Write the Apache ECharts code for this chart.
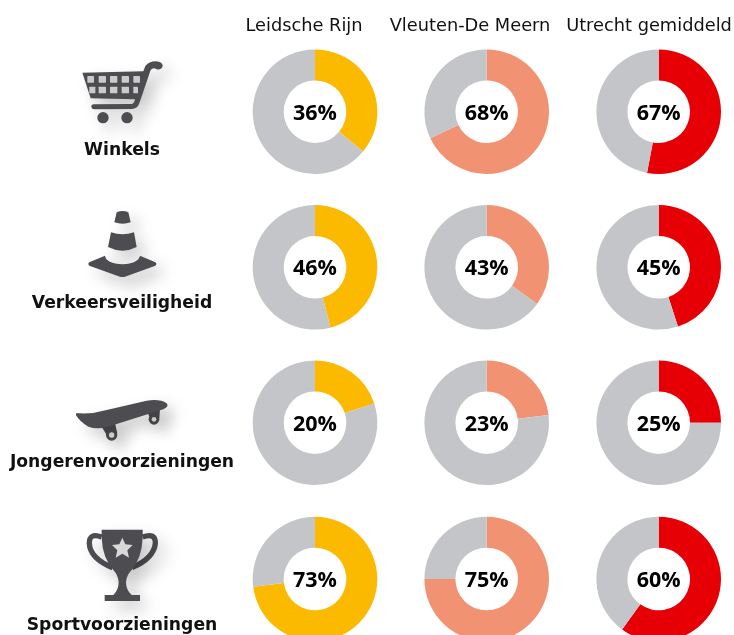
<!DOCTYPE html>
<html>
<head>
    <meta charset="utf-8">
    <title>Voorzieningen per gebied</title>
    <script src="https://cdn.jsdelivr.net/npm/echarts@6/dist/echarts.min.js"></script>
    <style>
        html, body { margin: 0; padding: 0; background: #fff; }
        #chart-container { width: 734px; height: 635px; }
    </style>
</head>
<body>
<div id="chart-container"></div>
<script>
    // data
    var areas = ['Leidsche Rijn', 'Vleuten-De Meern', 'Utrecht gemiddeld'];
    var topics = ['Winkels', 'Verkeersveiligheid', 'Jongerenvoorzieningen', 'Sportvoorzieningen'];
    // the printed figure and the drawn slice differ in two places in the original
    var leidscheLabels = [36, 46, 20, 73];
    var vleutenLabels = [68, 43, 23, 75];
    var utrechtLabels = [67, 45, 25, 60];
    var leidscheSlices = [36, 46, 20, 73];
    var vleutenSlices = [68, 35, 23, 75];
    var utrechtSlices = [53, 45, 25, 60];

    var labels = [leidscheLabels, vleutenLabels, utrechtLabels];
    var slices = [leidscheSlices, vleutenSlices, utrechtSlices];
    var colors = ['#fbb900', '#f19372', '#e60005'];
    var rest = '#c4c5c9';
    var dark = '#4d4c50';

    var colX = [315, 486.7, 658.7];
    var rowY = [111.7, 267.3, 422.7, 579];
    var headX = [304, 470, 649];
    var topicY = [151, 304, 463, 626];
    var font = '"DejaVu Sans", sans-serif';

    var series = [];
    areas.forEach(function (area, c) {
        topics.forEach(function (topic, r) {
            series.push({
                name: area + ' - ' + topic,
                type: 'pie',
                center: [colX[c], rowY[r]],
                radius: [31.3, 62.3],
                startAngle: 90,
                silent: true,
                animation: false,
                labelLine: { show: false },
                label: { show: false },
                labelLayout: { dy: 2 },
                data: [
                    {
                        value: slices[c][r],
                        itemStyle: { color: colors[c] },
                        label: {
                            show: true,
                            position: 'center',
                            formatter: labels[c][r] + '%',
                            fontFamily: '"Open Sans", sans-serif',
                            fontWeight: 'bold',
                            fontSize: 21.5,
                            color: '#000'
                        }
                    },
                    { value: 100 - slices[c][r], itemStyle: { color: rest } }
                ]
            });
        });
    });

    var graphics = [];
    areas.forEach(function (area, c) {
        graphics.push({
            type: 'text', x: headX[c], y: 26,
            style: { text: area, fontFamily: font, fontSize: 17.8, fill: '#111', align: 'center', verticalAlign: 'middle' }
        });
    });
    topics.forEach(function (topic, r) {
        graphics.push({
            type: 'text', x: 122, y: topicY[r],
            style: { text: topic, fontFamily: font, fontWeight: 'bold', fontSize: 17.2, fill: '#111', align: 'center', verticalAlign: 'middle' }
        });
    });

    // icons, drawn at 3x and scaled down
    var shadow = { fill: dark, shadowBlur: 16, shadowColor: 'rgba(0,0,0,0.22)', shadowOffsetX: 8, shadowOffsetY: 8 };
    var pathCount = 0;
    function pathShape(d) {
        var name = 'iconPath' + (pathCount++);
        echarts.graphic.registerShape(name, echarts.graphic.extendPath(d, {}));
        return name;
    }
    function part(d) {
        return { type: pathShape(d), style: shadow };
    }
    function line(d, w) {
        return { type: pathShape(d), style: { fill: null, stroke: dark, lineWidth: w, shadowBlur: 16, shadowColor: 'rgba(0,0,0,0.2)', shadowOffsetX: 8, shadowOffsetY: 8 } };
    }
    function dot(x, y, r, col) {
        return { type: 'circle', shape: { cx: x, cy: y, r: r }, style: col ? { fill: col } : shadow };
    }
    function cell(x, y, w, h) {
        return { type: 'rect', shape: { x: x, y: y, width: w, height: h, r: 2 }, style: { fill: '#cbcbcb' } };
    }
    function icon(ox, oy, children) {
        return { type: 'group', x: ox, y: oy, scaleX: 1 / 3, scaleY: 1 / 3, children: children };
    }

    graphics.push(icon(0, 40, [
        part('M247 98 L430 94 L436 78 Q446 64 468 64 Q488 66 488 77 Q486 90 470 88 Q460 80 452 90 L418 190 Q412 207 395 207 L282 208 Q274 206 274 200 Q274 193 282 193 L395 192 Q403 190 405 178 L272 175 Z'),
        dot(309, 233, 17), dot(381, 233, 17),
        cell(262, 108, 20, 20), cell(296, 108, 22, 20), cell(330, 108, 22, 20), cell(365, 108, 22, 20), cell(400, 108, 20, 20),
        cell(268, 140, 18, 20), cell(296, 140, 22, 20), cell(330, 140, 22, 20), cell(365, 140, 22, 20), cell(400, 140, 14, 20)
    ]));
    graphics.push(icon(0, 195, [
        part('M343 82 L350 52 Q368 44 385 52 L392 82 Q368 90 343 82 Z'),
        part('M333 112 Q368 124 402 112 L410 156 Q368 178 324 156 Z'),
        part('M315 182 Q318 205 368 208 Q415 205 420 182 L466 202 Q472 207 466 212 L375 245 Q368 247 360 245 L268 212 Q262 207 268 202 Z')
    ]));
    graphics.push(icon(0, 390, [
        part('M440 60 L480 55 L478 85 L450 85 Z'),
        part('M305 110 L345 100 L352 130 L320 135 Z'),
        dot(462, 88, 16), dot(335, 135, 17),
        dot(462, 88, 7, '#e6e6e6'), dot(335, 135, 8, '#e6e6e6'),
        part('M228 70 L240 70 Q280 72 320 60 L440 32 Q480 26 500 40 Q508 50 490 58 L350 102 Q300 122 265 110 Q240 96 228 76 Z')
    ]));
    graphics.push(icon(0, 515, [
        line('M305 66 Q268 52 268 85 Q270 130 338 158', 16),
        line('M428 66 Q467 52 466 85 Q462 130 396 158', 16),
        part('M305 44 L428 44 L428 70 Q425 130 395 165 Q380 180 378 200 Q378 225 395 240 L420 240 L420 258 L314 258 L314 240 L340 240 Q356 225 356 200 Q354 180 340 165 Q308 130 305 70 Z'),
        { type: pathShape('M367 68 L376 88 L398 90 L382 106 L387 128 L367 116 L347 128 L352 106 L336 90 L358 88 Z'), style: { fill: '#d8d8d8' } }
    ]));

    var myChart = echarts.init(document.getElementById('chart-container'));
    myChart.setOption({
        animation: false,
        backgroundColor: '#fff',
        series: series,
        graphic: graphics
    });
</script>
</body>
</html>
